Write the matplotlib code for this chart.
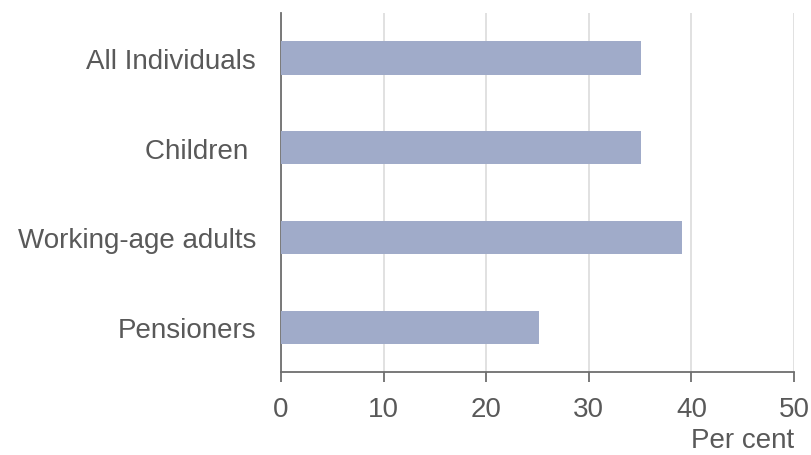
import matplotlib
matplotlib.use('Agg')
import matplotlib.pyplot as plt

# data
groups = ['All Individuals', 'Children ', 'Working-age adults', 'Pensioners']
values = [35.1, 35.1, 39.1, 25.1]
ticks = [0, 10, 20, 30, 40, 50]

plt.rcParams['font.family'] = ['Liberation Sans', 'DejaVu Sans']

bar_colour = '#a0abc9'
text_colour = '#595959'
axis_colour = '#6e6e6e'

fig = plt.figure(figsize=(8.12, 4.56), dpi=100)
ax = fig.add_axes([0.346, 0.182, 0.632, 0.787])

ax.barh(range(len(groups)), values, height=0.37, color=bar_colour, zorder=3)

ax.set_xlim(0, 50)
ax.set_ylim(3.5, -0.5)
ax.set_xticks(ticks)
ax.set_yticks(range(len(groups)))
ax.set_yticklabels(groups)

ax.grid(axis='x', color='#dcdcdc', linewidth=1.2, zorder=0)
for side in ['top', 'right']:
    ax.spines[side].set_visible(False)
for side in ['left', 'bottom']:
    ax.spines[side].set_color(axis_colour)
    ax.spines[side].set_linewidth(1.3)

ax.tick_params(axis='x', direction='out', length=7, width=1.3, color=axis_colour,
               labelsize=20, labelcolor=text_colour, pad=10)
ax.tick_params(axis='y', length=0, labelsize=20, labelcolor=text_colour, pad=18)

ax.set_xlabel('Per cent', fontsize=20, color=text_colour, loc='right', labelpad=4)

fig.savefig('out.png', dpi=100)
